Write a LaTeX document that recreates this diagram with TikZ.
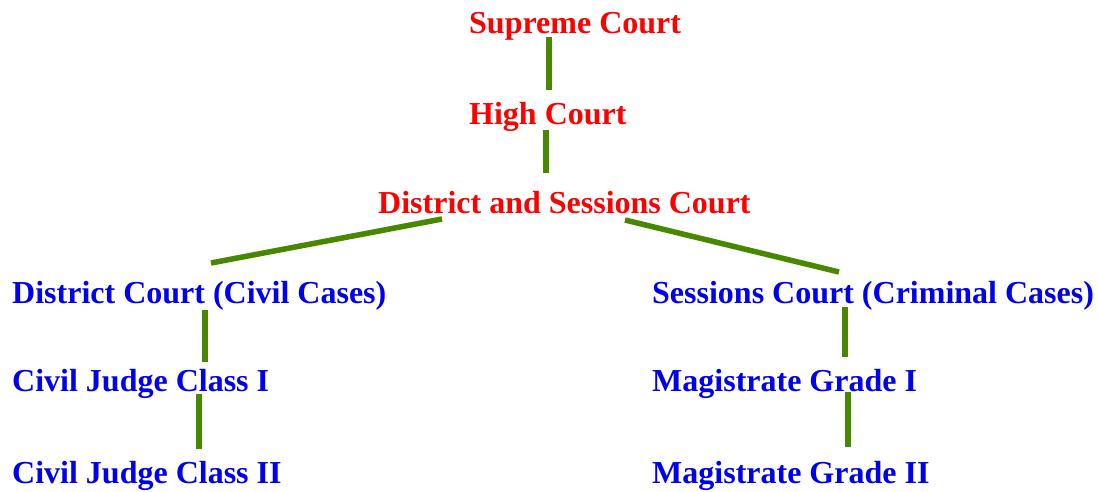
\documentclass[tikz,border=0pt]{standalone}
\usepackage{fontspec}
\setmainfont{Liberation Serif}
\usepackage{tikz}

\definecolor{courtred}{RGB}{255,0,0}
\definecolor{courtblue}{RGB}{0,0,240}
\definecolor{linkgreen}{RGB}{72,136,0}

\begin{document}
\begin{tikzpicture}[x=1pt,y=-1pt,
  court/.style={anchor=base west,inner sep=0pt,font=\fontsize{32}{36}\selectfont\bfseries},
  upper/.style={court,text=courtred},
  lower/.style={court,text=courtblue},
  link/.style={draw=linkgreen,line width=5.5pt}]
\useasboundingbox (0,0) rectangle (1098,491);
\node[upper] (sc) at (469,33) {Supreme Court};
\node[upper] (hc) at (469,124) {High Court};
\node[upper] (dsc) at (378,213) {District and Sessions Court};
\node[lower] (dcc) at (12,303) {District Court (Civil Cases)};
\node[lower] (cj1) at (12,391) {Civil Judge Class I};
\node[lower] (cj2) at (12,483) {Civil Judge Class II};
\node[lower] (scc) at (652,303) {Sessions Court (Criminal Cases)};
\node[lower] (mg1) at (652,391) {Magistrate Grade I};
\node[lower] (mg2) at (652,483) {Magistrate Grade II};
\draw[link] ([shift={(80,4)}]sc.base west) -- ([shift={(80,-34)}]hc.base west);
\draw[link] ([shift={(77,6)}]hc.base west) -- ([shift={(168,-40)}]dsc.base west);
\draw[link] ([shift={(64,6)}]dsc.base west) -- ([shift={(199,-40)}]dcc.base west);
\draw[link] ([shift={(247,7)}]dsc.base west) -- ([shift={(187,-31)}]scc.base west);
\draw[link] ([shift={(193,7)}]dcc.base west) -- ([shift={(193,-29)}]cj1.base west);
\draw[link] ([shift={(187,3)}]cj1.base west) -- ([shift={(187,-34)}]cj2.base west);
\draw[link] ([shift={(193,4)}]scc.base west) -- ([shift={(193,-34)}]mg1.base west);
\draw[link] ([shift={(196,1)}]mg1.base west) -- ([shift={(196,-36)}]mg2.base west);
\end{tikzpicture}
\end{document}
